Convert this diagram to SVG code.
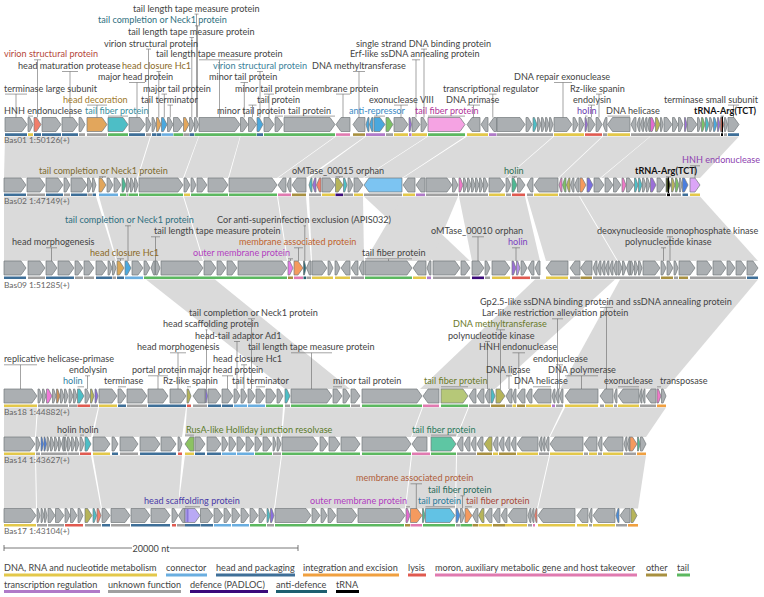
<svg xmlns="http://www.w3.org/2000/svg" width="764" height="597" viewBox="0 0 764 597">
<style>
text{font-family:Lato,"Open Sans",sans-serif;font-size:9.1px;fill:#444}
.gn{font-size:8.4px;fill:#666}
.bold{font-weight:bold;fill:#111}
.g{fill:#abafb2;stroke:#73787b;stroke-width:.7}
.c{stroke:#73787b;stroke-width:.7}
.ld{fill:none;stroke:#666;stroke-width:.6}
.syn polygon{fill:#dadada}
.b{fill:none;stroke-width:2.6}
.bY{stroke:#e3c84a}.bLB{stroke:#6aaee0}.bDB{stroke:#3e6f98}.bO{stroke:#f0a040}.bR{stroke:#e05a50}.bP{stroke:#e07ab0}.bOL{stroke:#a89040}.bG{stroke:#5cb860}.bTR{stroke:#b07ac8}.bGR{stroke:#a0a0a0}.bDP{stroke:#3b0a7a}.bDT{stroke:#1e5f70}.bK{stroke:#000}
.lg{stroke-width:3}
</style>
<rect width="764" height="597" fill="#fff"/>
<g id="synteny" class="syn">
<polygon points="5,136.5 150,136.5 137,178 4,178"/><polygon points="151,136.5 198.5,136.5 183,178 138,178"/><polygon points="199,136.5 240,136.5 228,178 184,178"/><polygon points="240.5,136.5 335,136.5 277,178 229,178"/><polygon points="336,136.5 365,136.5 306,178 278,178"/><polygon points="366,136.5 427,136.5 363,178 309,178"/><polygon points="428,136.5 465,136.5 402,178 364,178"/><polygon points="467,136.5 553,136.5 505,178 403,178"/><polygon points="554,136.5 602,136.5 558,178 506,178"/><polygon points="603,136.5 650,136.5 600,178 559,178"/><polygon points="650.5,136.5 739,136.5 700,178 601,178"/>
<polygon points="4,196.5 96,196.5 116,261 4,261"/><polygon points="99,196.5 183,196.5 203,261 117,261"/><polygon points="184,196.5 277,196.5 287,261 204,261"/><polygon points="278,196.5 306,196.5 311,261 288,261"/><polygon points="309,196.5 363,196.5 364,261 312,261"/><polygon points="364,196.5 402,196.5 470,261 433,261"/><polygon points="403,196.5 458,196.5 431,261 365,261"/><polygon points="459,196.5 525,196.5 540,261 472,261"/><polygon points="527,196.5 579,196.5 617,261 546,261"/><polygon points="580,196.5 700,196.5 758,261 618,261"/>
<polygon points="146,279.5 215,279.5 350,389 285,389"/><polygon points="535,279.5 615,279.5 495,389 420,389"/><polygon points="620,279.5 758,279.5 666,389 560,389"/>
<polygon points="4,407.5 37,407.5 35,437 4,437"/><polygon points="38,407.5 98,407.5 91,437 36,437"/><polygon points="99,407.5 186,407.5 182,437 93,437"/><polygon points="187,407.5 283,407.5 281,437 185,437"/><polygon points="285,407.5 422,407.5 411,437 282,437"/><polygon points="423,407.5 468,407.5 456,437 412,437"/><polygon points="469,407.5 563,407.5 549,437 457,437"/><polygon points="565,407.5 666,407.5 646,437 550,437"/>
<polygon points="4,455.5 35,455.5 36,508.5 4,508.5"/><polygon points="36,455.5 91,455.5 101,508.5 37,508.5"/><polygon points="93,455.5 182,455.5 178,508.5 102,508.5"/><polygon points="185,455.5 281,455.5 274,508.5 178,508.5"/><polygon points="282,455.5 411,455.5 405,508.5 275,508.5"/><polygon points="412,455.5 456,455.5 455,508.5 406,508.5"/><polygon points="457,455.5 549,455.5 537,508.5 456,508.5"/><polygon points="550,455.5 646,455.5 638,508.5 538,508.5"/>
</g>

<g id="Bas01" transform="translate(0,117.5)">
<path class="g" d="M5 0H22L27 7L22 14H5ZM28 0H29.7L33 7L29.7 14H28ZM42 0H56L61 7L56 14H42ZM62 0H73L78 7L73 14H62ZM79 0H81.1L85 7L81.1 14H79ZM129 0H140L145 7L140 14H129ZM146 0H147.7L151 7L147.7 14H146ZM152 0H153.4L156 7L153.4 14H152ZM167.5 0H169.4L173 7L169.4 14H167.5ZM173.5 0H178L183 7L178 14H173.5ZM189.5 0H191.1L194 7L191.1 14H189.5ZM194.5 0H195.9L198.5 7L195.9 14H194.5ZM199 0H235L240 7L235 14H199ZM240.5 0H243.1L248 7L243.1 14H240.5ZM248.5 0H251.5L256.5 7L251.5 14H248.5ZM264 0H269L274 7L269 14H264ZM275 0H278L283 7L278 14H275ZM284 0H330L335 7L330 14H284ZM336 7L341 0H350V14H341ZM353 7L358 0H365V14H358ZM394 0H403L408 7L403 14H394ZM412 0H415L420 7L415 14H412ZM421 0H423.1L427 7L423.1 14H421ZM467 7L472 0H480V14H472ZM481 7L485.5 0H488V14H485.5ZM489 7L493.9 0H496.5V14H493.9ZM497 0H520L525 7L520 14H497ZM526 0H528.1L532 7L528.1 14H526ZM537.5 0H538.7L541 7L538.7 14H537.5ZM541.5 0H542.7L545 7L542.7 14H541.5ZM545.5 0H546.7L549 7L546.7 14H545.5ZM549.5 0H550.7L553 7L550.7 14H549.5ZM554 0H567L572 7L567 14H554ZM573 0H574.7L578 7L574.7 14H573ZM579 0H580.7L584 7L580.7 14H579ZM588 0H590.5L595 7L590.5 14H588ZM596 0H598.1L602 7L598.1 14H596ZM603 7L605.6 0H607V14H605.6ZM607.5 7L612.5 0H630V14H612.5ZM631 7L634.3 0H636V14H634.3ZM637 7L639 0H640V14H639ZM640.5 7L642.5 0H643.5V14H642.5ZM644 7L646 0H647V14H646ZM647.5 7L649.1 0H650V14H649.1ZM660.5 0H661.4L663 7L661.4 14H660.5ZM664 0H667L672 7L667 14H664ZM672.5 0H674.4L678 7L674.4 14H672.5ZM678.5 0H680.1L683 7L680.1 14H678.5ZM687.5 0H692L697 7L692 14H687.5ZM697.5 0H698.7L701 7L698.7 14H697.5ZM709.5 0H710.7L713 7L710.7 14H709.5ZM724.5 0H725.5L727.5 7L725.5 14H724.5ZM728 0H734L739 7L734 14H728Z"/>
<path class="c" fill="#f27e6b" d="M34 0H36.5L41 7L36.5 14H34ZM720.5 0H721.7L724 7L721.7 14H720.5Z"/>
<path class="c" fill="#e2a65c" d="M87 0H102L107 7L102 14H87ZM156.5 0H158.1L161 7L158.1 14H156.5ZM183.5 0H185.4L189 7L185.4 14H183.5Z"/>
<path class="c" fill="#4dbec6" d="M108 0H123L128 7L123 14H108ZM533 0H534.4L537 7L534.4 14H533ZM705.5 0H706.7L709 7L706.7 14H705.5Z"/>
<path class="c" fill="#4aa8de" d="M161.5 0H163.4L167 7L163.4 14H161.5ZM257 0H259.1L263 7L259.1 14H257ZM366 7L368 0H369V14H368ZM369.5 7L371.8 0H373V14H371.8ZM374 0H380L385 7L380 14H374ZM713.5 0H714.7L717 7L714.7 14H713.5Z"/>
<path class="c" fill="#7cc266" d="M386 0H388.5L393 7L388.5 14H386ZM701.5 0H702.7L705 7L702.7 14H701.5Z"/>
<path class="c" fill="#9b6fd8" d="M409 0H410L411.5 7L410 14H409ZM585 0H585.9L587.5 7L585.9 14H585ZM684.5 0H685.4L687 7L685.4 14H684.5ZM717.5 0H718.4L720 7L718.4 14H717.5Z"/>
<path class="c" fill="#f5a3e3" d="M428 0H460L465 7L460 14H428Z"/>
<path class="c" fill="#e36ad0" d="M650.5 0H652.1L655 7L652.1 14H650.5Z"/>
<path class="c" fill="#b6b45a" d="M655.5 0H657.1L660 7L657.1 14H655.5Z"/>
<rect x="721.7" y="-1" width="1.3" height="16" fill="#000"/>
<path class="b bDB" d="M5 17.1H27M34 17.1H41M42 17.1H61M62 17.1H78M129 17.1H145M152 17.1H156M156.5 17.1H161M189.5 17.1H194M257 17.1H263M728 17.1H739"/>
<path class="b bY" d="M28 17.1H33M394 17.1H408M412 17.1H427M467 17.1H488M554 17.1H584M607.5 17.1H630"/>
<path class="b bGR" d="M79 17.1H85M87 17.1H107M146 17.1H151M183.5 17.1H189M386 17.1H393M497 17.1H553M603 17.1H607M631 17.1H720M724 17.1H727"/>
<path class="b bG" d="M108 17.1H128M173.5 17.1H183M194.5 17.1H256.5M264 17.1H335M428 17.1H465"/>
<path class="b bLB" d="M161.5 17.1H173"/>
<path class="b bP" d="M336 17.1H350"/>
<path class="b bOL" d="M353 17.1H365"/>
<path class="b bTR" d="M366 17.1H385M409 17.1H411.5M489 17.1H496.5"/>
<path class="b bR" d="M585 17.1H602"/>
<path class="b bK" d="M721 17.1H723"/>
</g>
<g id="Bas01-labels">
<path class="ld" d="M194.5 14.1H198.5M196.5 14.1V117.5M195 25.8H200M197.5 25.8V117.5M189.5 37.5H194M191.8 37.5V117.5M146 49.1H151M148.5 49.1V117.5M421 49.1H427M424 49.1V117.5M34 59.8H41M37.5 59.8V117.5M199 59.8H240M219.5 59.8V117.5M412 59.8H420M416 59.8V117.5M62 71.5H78M70 71.5V117.5M156.5 71.5H161M158.8 71.5V117.5M257 71.5H263M260 71.5V117.5M353 71.5H365M359 71.5V117.5M129 82.5H145M137 82.5V117.5M240.5 82.5H248M244.3 82.5V117.5M554 82.5H572M563 82.5V117.5M5 94.1H27M16 94.1V117.5M161.5 94.1H167M164.3 94.1V117.5M264 94.1H274M269 94.1V117.5M336 94.1H350M343 94.1V117.5M489 94.1H496.5M492.8 94.1V117.5M596 94.1H602M599 94.1V117.5M87 105.1H107M97 105.1V117.5M167.5 105.1H173M170.3 105.1V117.5M248.5 105.1H256.5M252.5 105.1V117.5M394 105.1H408M401 105.1V117.5M467 105.1H480M473.5 105.1V117.5M588 105.1H595M591.5 105.1V117.5M728 105.1H739M733.5 105.1V117.5M28 116.1H33M108 116.1H128M275 116.1H283M284 116.1H335M374 116.1H385M428 116.1H465M585 116.1H587.5M607.5 116.1H630M720.5 116.1H724"/>
<text x="133" y="11.6">tail length tape measure protein</text>
<text x="98" y="23.3" style="fill:#2f6f80">tail completion or Neck1 protein</text>
<text x="128" y="35">tail length tape measure protein</text>
<text x="104" y="46.6">virion structural protein</text>
<text x="356" y="46.6">single strand DNA binding protein</text>
<text x="4" y="57.3" style="fill:#b5473a">virion structural protein</text>
<text x="156" y="57.3">tail length tape measure protein</text>
<text x="350" y="57.3">Erf-like ssDNA annealing protein</text>
<text x="18" y="69">head maturation protease</text>
<text x="122" y="69" style="fill:#8b6a26">head closure Hc1</text>
<text x="213" y="69" style="fill:#3b7f9a">virion structural protein</text>
<text x="312" y="69">DNA methyltransferase</text>
<text x="98" y="80">major head protein</text>
<text x="209" y="80">minor tail protein</text>
<text x="514" y="80">DNA repair exonuclease</text>
<text x="4" y="91.6">terminase large subunit</text>
<text x="143" y="91.6">major tail protein</text>
<text x="235" y="91.6">minor tail protein</text>
<text x="305" y="91.6">membrane protein</text>
<text x="443" y="91.6">transcriptional regulator</text>
<text x="570" y="91.6">Rz-like spanin</text>
<text x="63" y="102.6" style="fill:#a07a2c">head decoration</text>
<text x="141" y="102.6">tail terminator</text>
<text x="257" y="102.6">tail protein</text>
<text x="369" y="102.6">exonuclease VIII</text>
<text x="446" y="102.6">DNA primase</text>
<text x="573" y="102.6">endolysin</text>
<text x="664" y="102.6">terminase small subunit</text>
<text x="4" y="113.6">HNH endonuclease</text>
<text x="85" y="113.6" style="fill:#3a8fa0">tail fiber protein</text>
<text x="217" y="113.6">minor tail protein</text>
<text x="288" y="113.6">tail protein</text>
<text x="349" y="113.6" style="fill:#3a8ac4">anti-repressor</text>
<text x="415" y="113.6" style="fill:#b0359a">tail fiber protein</text>
<text x="577" y="113.6" style="fill:#6a3ab0">holin</text>
<text x="606" y="113.6">DNA helicase</text>
<text x="694" y="113.6" class="bold">tRNA-Arg(TCT)</text>
<text x="4" y="143.3" class="gn">Bas01  1:50126(+)</text>
</g>

<g id="Bas02" transform="translate(0,178)">
<path class="g" d="M4 0H21L26 7L21 14H4ZM27 0H40L45 7L40 14H27ZM46 0H58L63 7L58 14H46ZM64 0H66.1L70 7L66.1 14H64ZM71 0H82L87 7L82 14H71ZM87.5 0H89.1L92 7L89.1 14H87.5ZM92.5 0H93.7L96 7L93.7 14H92.5ZM107 0H109.1L113 7L109.1 14H107ZM114 0H116.5L121 7L116.5 14H114ZM126.5 0H127.7L130 7L127.7 14H126.5ZM130.5 0H131.7L134 7L131.7 14H130.5ZM134.5 0H135.7L138 7L135.7 14H134.5ZM139 0H178L183 7L178 14H139ZM184 0H186.1L190 7L186.1 14H184ZM191 0H192.7L196 7L192.7 14H191ZM197 0H202L207 7L202 14H197ZM208 0H223L228 7L223 14H208ZM229 0H272L277 7L272 14H229ZM278 7L283 0H286V14H283ZM287 7L289.6 0H291V14H289.6ZM292 7L297 0H306V14H297ZM322 0H330L335 7L330 14H322ZM348 0H349.7L353 7L349.7 14H348ZM354 0H358L363 7L358 14H354ZM403 7L408 0H415V14H408ZM416 7L421 0H425V14H421ZM426 0H447L452 7L447 14H426ZM452.5 0H454.4L458 7L454.4 14H452.5ZM463.5 0H464.7L467 7L464.7 14H463.5ZM467.5 0H468.7L471 7L468.7 14H467.5ZM471.5 0H472.7L475 7L472.7 14H471.5ZM475.5 0H476.7L479 7L476.7 14H475.5ZM479.5 0H480.7L483 7L480.7 14H479.5ZM483.5 0H485.1L488 7L485.1 14H483.5ZM489 0H500L505 7L500 14H489ZM506 0H507.7L511 7L507.7 14H506ZM517.5 0H520.1L525 7L520.1 14H517.5ZM527 7L530.9 0H533V14H530.9ZM534 7L539 0H558V14H539ZM570.5 7L572.8 0H574V14H572.8ZM574.5 7L577.4 0H579V14H577.4ZM594 0H599L604 7L599 14H594ZM605 0H608L613 7L608 14H605ZM613.5 0H616.1L621 7L616.1 14H613.5ZM626.5 0H629.1L634 7L629.1 14H626.5ZM642.5 0H643.7L646 7L643.7 14H642.5ZM646.5 0H647.7L650 7L647.7 14H646.5ZM657 0H660L665 7L660 14H657ZM679.5 0H680.4L682 7L680.4 14H679.5Z"/>
<path class="c" fill="#e2a65c" d="M99 0H101.5L106 7L101.5 14H99Z"/>
<path class="c" fill="#4fb993" d="M122 0H123.4L126 7L123.4 14H122ZM512 0H513.7L517 7L513.7 14H512Z"/>
<path class="c" fill="#4dbec6" d="M309 7L311 0H312V14H311ZM343.5 0H344.7L347 7L344.7 14H343.5ZM634.5 0H635.7L638 7L635.7 14H634.5ZM638.5 0H639.7L642 7L639.7 14H638.5Z"/>
<path class="c" fill="#9b6fd8" d="M312.5 7L314.8 0H316V14H314.8ZM650.5 0H652.4L656 7L652.4 14H650.5Z"/>
<path class="c" fill="#f27e6b" d="M316.5 7L319.4 0H321V14H319.4Z"/>
<path class="c" fill="#b6b45a" d="M335.5 0H338.1L343 7L338.1 14H335.5ZM566.5 7L568.8 0H570V14H568.8ZM671.5 0H672.7L675 7L672.7 14H671.5Z"/>
<path class="c" fill="#7cc4f2" d="M364 7L369 0H402V14H369Z"/>
<path class="c" fill="#f07ac8" d="M459 0H460.4L463 7L460.4 14H459ZM559 7L561 0H562V14H561ZM622 0H623.4L626 7L623.4 14H622Z"/>
<path class="c" fill="#7cc266" d="M562.5 7L564.8 0H566V14H564.8ZM675.5 0H676.7L679 7L676.7 14H675.5Z"/>
<path class="c" fill="#f59a5e" d="M580 0H582.1L586 7L582.1 14H580Z"/>
<path class="c" fill="#7a6fe0" d="M587 0H589.1L593 7L589.1 14H587Z"/>
<path class="c" fill="#4f5a2a" d="M666 0H667.7L671 7L667.7 14H666Z"/>
<path class="c" fill="#4a7ede" d="M682.5 0H684.4L688 7L684.4 14H682.5Z"/>
<path class="c" fill="#dba5f7" d="M690 0H695L700 7L695 14H690Z"/>
<rect x="667.8" y="-1" width="1.3" height="16" fill="#000"/>
<path class="b bDB" d="M4 16.8H26M46 16.8H63M71 16.8H87M92.5 16.8H96M682.5 16.8H688"/>
<path class="b bGR" d="M27 16.8H45M64 16.8H70M87.5 16.8H92M126.5 16.8H128M309 16.8H321M343.5 16.8H353M364 16.8H402M426 16.8H458M459 16.8H488M506 16.8H511M527 16.8H533M559 16.8H666M671 16.8H681"/>
<path class="b bLB" d="M99 16.8H118"/>
<path class="b bG" d="M120 16.8H126M128.5 16.8H138M139 16.8H183M191 16.8H228M229 16.8H277"/>
<path class="b bY" d="M184 16.8H190M322 16.8H335M354 16.8H363M403 16.8H415M489 16.8H505M534 16.8H558M690 16.8H700"/>
<path class="b bP" d="M278 16.8H291"/>
<path class="b bOL" d="M292 16.8H306"/>
<path class="b bDP" d="M335.5 16.8H343"/>
<path class="b bTR" d="M416 16.8H425"/>
<path class="b bR" d="M512 16.8H525"/>
<path class="b bK" d="M667 16.8H670"/>
</g>
<g id="Bas02-labels">
<path class="ld" d="M99 176.8H106M102.5 176.8V178M335.5 176.8H343M339.3 176.8V178M512 176.8H517M514.5 176.8V178M666 176.8H671M668.5 176.8V178M690 165.8H700M695 165.8V178"/>
<text x="39" y="174.3" style="fill:#7d6a2e">tail completion or Neck1 protein</text>
<text x="292" y="174.3">oMTase_00015 orphan</text>
<text x="504" y="174.3" style="fill:#2f6e4f">holin</text>
<text x="635" y="174.3" class="bold">tRNA-Arg(TCT)</text>
<text x="682" y="163.3" style="fill:#8e3fb0">HNH endonuclease</text>
<text x="4" y="204.3" class="gn">Bas02  1:47149(+)</text>
</g>

<g id="Bas09" transform="translate(0,261)">
<path class="g" d="M4 0H21L26 7L21 14H4ZM28 0H40L45 7L40 14H28ZM46 0H52L57 7L52 14H46ZM58 0H69L74 7L69 14H58ZM75 0H78L83 7L78 14H75ZM84 0H89L94 7L89 14H84ZM96 0H102L107 7L102 14H96ZM108 0H109.4L112 7L109.4 14H108ZM112.5 0H113.7L116 7L113.7 14H112.5ZM132 0H138L143 7L138 14H132ZM144 0H146.1L150 7L146.1 14H144ZM151 7L153.6 0H155V14H153.6ZM155.5 0H157.1L160 7L157.1 14H155.5ZM161 0H198L203 7L198 14H161ZM204 0H211L216 7L211 14H204ZM217 0H221L226 7L221 14H217ZM227 0H232L237 7L232 14H227ZM238 0H282L287 7L282 14H238ZM306.5 7L309.4 0H311V14H309.4ZM312 0H322L327 7L322 14H312ZM328 0H329.7L333 7L329.7 14H328ZM335 0H336.7L340 7L336.7 14H335ZM341 7L346 0H350V14H346ZM351 7L355.5 0H358V14H355.5ZM359 7L362.3 0H364V14H362.3ZM365 0H407L412 7L407 14H365ZM413 7L418 0H426V14H418ZM427 7L429.6 0H431V14H429.6ZM433 0H455L460 7L455 14H433ZM461 0H465L470 7L465 14H461ZM472 0H479L484 7L479 14H472ZM485 0H486.7L490 7L486.7 14H485ZM492 0H505L510 7L505 14H492ZM521 0H523.1L527 7L523.1 14H521ZM528 7L531.9 0H534V14H531.9ZM535 7L538.3 0H540V14H538.3ZM546 7L551 0H568V14H551ZM570 7L575 0H580V14H575ZM580.5 7L585.5 0H592V14H585.5ZM593 7L595.6 0H597V14H595.6ZM597.5 7L599.8 0H601V14H599.8ZM601.5 7L603.8 0H605V14H603.8ZM605.5 7L607.8 0H609V14H607.8ZM609.5 7L611.8 0H613V14H611.8ZM613.5 7L615.8 0H617V14H615.8ZM618 0H619.4L622 7L619.4 14H618ZM622.5 0H623.7L626 7L623.7 14H622.5ZM626.5 7L628.8 0H630V14H628.8ZM630.5 0H631.7L634 7L631.7 14H630.5ZM634.5 0H635.7L638 7L635.7 14H634.5ZM638.5 0H639.7L642 7L639.7 14H638.5ZM643 0H655L660 7L655 14H643ZM661 0H662.7L666 7L662.7 14H661ZM667 0H669.1L673 7L669.1 14H667ZM674 0H675.4L678 7L675.4 14H674ZM679 0H690L695 7L690 14H679ZM697 0H707L712 7L707 14H697ZM713 0H721L726 7L721 14H713ZM727 0H730L735 7L730 14H727ZM736 0H741L746 7L741 14H736ZM747 0H753L758 7L753 14H747Z"/>
<path class="c" fill="#d9a85a" d="M117 0H119.5L124 7L119.5 14H117Z"/>
<path class="c" fill="#4aa8de" d="M125 0H127.1L131 7L127.1 14H125Z"/>
<path class="c" fill="#e67ae8" d="M288 0H289.7L293 7L289.7 14H288Z"/>
<path class="c" fill="#f59a5e" d="M294 0H298L303 7L298 14H294Z"/>
<path class="c" fill="#2a6a78" d="M303.5 0H304.4L306 7L304.4 14H303.5Z"/>
<path class="c" fill="#9b6fd8" d="M512 0H513.4L516 7L513.4 14H512Z"/>
<path class="c" fill="#b58ee8" d="M516.5 0H517.7L520 7L517.7 14H516.5Z"/>
<path class="b bDB" d="M4 16.8H26M46 16.8H74M96 16.8H112M117 16.8H124M747 16.8H758"/>
<path class="b bGR" d="M28 16.8H45M75 16.8H83M84 16.8H94M112.5 16.8H116M306.5 16.8H311M351 16.8H364M433 16.8H470M485 16.8H490M531 16.8H540M570 16.8H580M593 16.8H660M674 16.8H678M690 16.8H746"/>
<path class="b bLB" d="M125 16.8H143"/>
<path class="b bG" d="M144 16.8H287M365 16.8H412"/>
<path class="b bOL" d="M288 16.8H293M580.5 16.8H592M661 16.8H673M679 16.8H688"/>
<path class="b bP" d="M294 16.8H303"/>
<path class="b bDT" d="M303.5 16.8H306"/>
<path class="b bY" d="M312 16.8H333M335 16.8H350M413 16.8H426M492 16.8H510M546 16.8H568"/>
<path class="b bTR" d="M427 16.8H431"/>
<path class="b bDP" d="M472 16.8H484"/>
<path class="b bR" d="M512 16.8H530"/>
</g>
<g id="Bas09-labels">
<path class="ld" d="M125 225.8H131M128 225.8V261M303.5 225.8H306M304.8 225.8V261M151 236.8H160M155.5 236.8V261M472 236.8H484M478 236.8V261M667 236.8H673M670 236.8V261M46 247.8H57M51.5 247.8V261M294 247.8H303M298.5 247.8V261M512 247.8H520M516 247.8V261M661 247.8H666M663.5 247.8V261M117 258.8H124M120.5 258.8V261M288 258.8H293M290.5 258.8V261M365 258.8H412M388.5 258.8V261"/>
<text x="65" y="223.3" style="fill:#2f6f80">tail completion or Neck1 protein</text>
<text x="217" y="223.3">Cor anti-superinfection exclusion (APIS032)</text>
<text x="154" y="234.3">tail length tape measure protein</text>
<text x="431" y="234.3">oMTase_00010 orphan</text>
<text x="597" y="234.3">deoxynucleoside monophosphate kinase</text>
<text x="12" y="245.3">head morphogenesis</text>
<text x="239" y="245.3" style="fill:#c0642e">membrane associated protein</text>
<text x="508" y="245.3" style="fill:#7b3fc0">holin</text>
<text x="625" y="245.3">polynucleotide kinase</text>
<text x="90" y="256.3" style="fill:#8b6a26">head closure Hc1</text>
<text x="193" y="256.3" style="fill:#b23fc0">outer membrane protein</text>
<text x="362" y="256.3">tail fiber protein</text>
<text x="4" y="287.5" class="gn">Bas09  1:51285(+)</text>
</g>

<g id="Bas18" transform="translate(0,389)">
<path class="g" d="M4 0H32L37 7L32 14H4ZM38 0H39.4L42 7L39.4 14H38ZM42.5 0H43.7L46 7L43.7 14H42.5ZM52.5 0H53.7L56 7L53.7 14H52.5ZM60.5 0H61.7L64 7L61.7 14H60.5ZM64.5 0H65.7L68 7L65.7 14H64.5ZM69 0H70.4L73 7L70.4 14H69ZM73.5 0H74.7L77 7L74.7 14H73.5ZM85 0H86.7L90 7L86.7 14H85ZM99 0H112L117 7L112 14H99ZM118 0H121L126 7L121 14H118ZM127 0H142L147 7L142 14H127ZM148 0H163L168 7L163 14H148ZM170 0H181L186 7L181 14H170ZM193 7L198 0H205V14H198ZM208 0H216L221 7L216 14H208ZM222 0H228L233 7L228 14H222ZM234 0H236.1L240 7L236.1 14H234ZM241 0H243.1L247 7L243.1 14H241ZM248 0H250.5L255 7L250.5 14H248ZM256 0H260L265 7L260 14H256ZM266 0H271L276 7L271 14H266ZM277 0H279.1L283 7L279.1 14H277ZM291 0H327L332 7L327 14H291ZM333 0H337L342 7L337 14H333ZM343 0H345.5L350 7L345.5 14H343ZM351 0H355L360 7L355 14H351ZM362 0H417L422 7L417 14H362ZM423 7L428 0H439V14H428ZM469 7L473.5 0H476V14H473.5ZM477 7L481.5 0H484V14H481.5ZM485 7L488.3 0H490V14H488.3ZM506 7L509.9 0H512V14H509.9ZM512.5 7L514.8 0H516V14H514.8ZM517 7L522 0H525V14H522ZM526 7L529.9 0H532V14H529.9ZM533 7L538 0H551V14H538ZM552 7L554 0H555V14H554ZM555.5 7L557.8 0H559V14H557.8ZM559.5 7L561.8 0H563V14H561.8ZM565 7L570 0H598V14H570ZM600 7L605 0H613V14H605ZM614 7L616 0H617V14H616ZM618 7L623 0H639V14H623ZM639.5 7L641.1 0H642V14H641.1ZM642.5 7L644.1 0H645V14H644.1ZM646 7L651 0H656V14H651ZM661.5 0H663.1L666 7L663.1 14H661.5Z"/>
<path class="c" fill="#f07ad8" d="M46.5 0H48.4L52 7L48.4 14H46.5Z"/>
<path class="c" fill="#c8905a" d="M56.5 0H57.7L60 7L57.7 14H56.5Z"/>
<path class="c" fill="#4dbec6" d="M77.5 0H79.8L84 7L79.8 14H77.5ZM285 0H286.7L290 7L286.7 14H285ZM491 0H492.4L495 7L492.4 14H491Z"/>
<path class="c" fill="#b6b45a" d="M90.5 0H91.7L94 7L91.7 14H90.5ZM187 0H188.4L191 7L188.4 14H187ZM496 0H500L505 7L500 14H496Z"/>
<path class="c" fill="#8a6fe0" d="M95 0H96L98 7L96 14H95ZM205.5 0H206.2L207.5 7L206.2 14H205.5Z"/>
<path class="c" fill="#b6c878" d="M441 0H463L468 7L463 14H441Z"/>
<path class="c" fill="#f07ac8" d="M657 0H658.4L661 7L658.4 14H657Z"/>
<path class="b bY" d="M4 16.8H37M99 16.8H117M512.5 16.8H516M526 16.8H551M565 16.8H598M605 16.8H613M618 16.8H639"/>
<path class="b bGR" d="M38 16.8H68M69 16.8H77M90.5 16.8H98M127 16.8H147M193 16.8H207M285 16.8H290M351 16.8H360M469 16.8H490M506 16.8H512M556 16.8H563M600 16.8H604M614 16.8H617M640 16.8H656"/>
<path class="b bR" d="M77.5 16.8H90M187 16.8H191"/>
<path class="b bDB" d="M118 16.8H126M148 16.8H186M208 16.8H221M222 16.8H233"/>
<path class="b bLB" d="M234 16.8H247M248 16.8H265"/>
<path class="b bG" d="M266 16.8H283M291 16.8H350M362 16.8H422M441 16.8H468"/>
<path class="b bP" d="M423 16.8H439"/>
<path class="b bOL" d="M491 16.8H505M517 16.8H525"/>
<path class="b bTR" d="M552 16.8H555"/>
<path class="b bO" d="M657 16.8H666"/>
</g>
<g id="Bas18-labels">
<path class="ld" d="M600 307.5H613M606.5 307.5V389M248 318.8H255M251.5 318.8V389M552 318.8H563M557.5 318.8V389M205.5 329.8H207.5M206.5 329.8V389M496 329.8H505M500.5 329.8V389M234 341.5H240M237 341.5V389M485 341.5H490M487.5 341.5V389M170 352.8H186M178 352.8V389M291 352.8H332M311.5 352.8V389M512.5 352.8H525M518.8 352.8V389M4 364.8H37M20.5 364.8V389M241 364.8H247M244 364.8V389M556 364.8H563M559.5 364.8V389M85 375.8H90M87.5 375.8V389M148 375.8H168M158 375.8V389M222 375.8H233M227.5 375.8V389M506 375.8H512M509 375.8V389M565 375.8H598M581.5 375.8V389M77.5 386.8H84M118 386.8H126M187 386.8H191M256 386.8H265M333 386.8H342M441 386.8H468M533 386.8H551M618 386.8H639M657 386.8H661"/>
<text x="480" y="305">Gp2.5-like ssDNA binding protein and ssDNA annealing protein</text>
<text x="189" y="316.3">tail completion or Neck1 protein</text>
<text x="482" y="316.3">Lar-like restriction alleviation protein</text>
<text x="163" y="327.3">head scaffolding protein</text>
<text x="453" y="327.3" style="fill:#6b7a2a">DNA methyltransferase</text>
<text x="195" y="339">head-tail adaptor Ad1</text>
<text x="448" y="339">polynucleotide kinase</text>
<text x="137" y="350.3">head morphogenesis</text>
<text x="248" y="350.3">tail length tape measure protein</text>
<text x="479" y="350.3">HNH endonuclease</text>
<text x="4" y="362.3">replicative helicase-primase</text>
<text x="213" y="362.3">head closure Hc1</text>
<text x="533" y="362.3">endonuclease</text>
<text x="69" y="373.3">endolysin</text>
<text x="132" y="373.3">portal protein</text>
<text x="188" y="373.3">major head protein</text>
<text x="486" y="373.3">DNA ligase</text>
<text x="548" y="373.3">DNA polymerase</text>
<text x="63" y="384.3" style="fill:#2f7f9f">holin</text>
<text x="104" y="384.3">terminase</text>
<text x="163" y="384.3">Rz-like spanin</text>
<text x="232" y="384.3">tail terminator</text>
<text x="333" y="384.3">minor tail protein</text>
<text x="424" y="384.3" style="fill:#6b7a2a">tail fiber protein</text>
<text x="514" y="384.3">DNA helicase</text>
<text x="604" y="384.3">exonuclease</text>
<text x="660" y="384.3">transposase</text>
<text x="4" y="415" class="gn">Bas18  1:44882(+)</text>
</g>

<g id="Bas14" transform="translate(0,437)">
<path class="g" d="M4 0H30L35 7L30 14H4ZM36 0H37.4L40 7L37.4 14H36ZM47 0H48L50 7L48 14H47ZM50.5 0H51.7L54 7L51.7 14H50.5ZM54.5 0H55.7L58 7L55.7 14H54.5ZM58.5 0H59.4L61 7L59.4 14H58.5ZM61.5 7L63.1 0H64V14H63.1ZM64.5 0H65.4L67 7L65.4 14H64.5ZM67.5 0H68.7L71 7L68.7 14H67.5ZM71.5 0H72.7L75 7L72.7 14H71.5ZM75.5 0H76.7L79 7L76.7 14H75.5ZM80 0H81.4L84 7L81.4 14H80ZM93 0H105L110 7L105 14H93ZM112 0H114.1L118 7L114.1 14H112ZM120 0H133L138 7L133 14H120ZM140 0H155L160 7L155 14H140ZM161 0H171L176 7L171 14H161ZM178 0H179.4L182 7L179.4 14H178ZM195 0H200L205 7L200 14H195ZM207 0H216L221 7L216 14H207ZM222 0H224.1L228 7L224.1 14H222ZM229 0H231.5L236 7L231.5 14H229ZM237 0H240L245 7L240 14H237ZM246 0H249L254 7L249 14H246ZM255 0H257.5L262 7L257.5 14H255ZM263 0H267L272 7L267 14H263ZM273 0H274L276 7L274 14H273ZM277 0H278.4L281 7L278.4 14H277ZM282 0H313L318 7L313 14H282ZM320 0H323L328 7L323 14H320ZM329 0H335L340 7L335 14H329ZM341 0H355L360 7L355 14H341ZM362 0H406L411 7L406 14H362ZM412 7L417 0H427V14H417ZM457 7L460.9 0H463V14H460.9ZM464 7L467.9 0H470V14H467.9ZM471 7L474.3 0H476V14H474.3ZM477 7L480.9 0H483V14H480.9ZM493 7L496.3 0H498V14H496.3ZM499 7L502.3 0H504V14H502.3ZM505 7L508.3 0H510V14H508.3ZM511 7L514.3 0H516V14H514.3ZM517 7L522 0H538V14H522ZM539 7L541 0H542V14H541ZM542.5 7L544.1 0H545V14H544.1ZM545.5 7L547.8 0H549V14H547.8ZM550 7L555 0H583V14H555ZM584 7L589 0H597V14H589ZM598 7L600.6 0H602V14H600.6ZM603 7L608 0H623V14H608ZM624 7L626 0H627V14H626ZM627.5 7L629.1 0H630V14H629.1ZM640.5 0H642.4L646 7L642.4 14H640.5Z"/>
<path class="c" fill="#4a7ede" d="M41 0H41.9L43.5 7L41.9 14H41ZM44 0H44.9L46.5 7L44.9 14H44Z"/>
<path class="c" fill="#4dbec6" d="M85 0H87.1L91 7L87.1 14H85Z"/>
<path class="c" fill="#8cc262" d="M185 7L190 0H194V14H190Z"/>
<path class="c" fill="#5ec6a3" d="M431 0H451L456 7L451 14H431Z"/>
<path class="c" fill="#b6b45a" d="M484 7L489 0H492V14H489Z"/>
<path class="c" fill="#f59a5e" d="M630 0H632.5L637 7L632.5 14H630Z"/>
<path class="c" fill="#4fb993" d="M637.5 0H638.4L640 7L638.4 14H637.5Z"/>
<path class="b bY" d="M4 16.8H35M93 16.8H110M185 16.8H194M493 16.8H498M517 16.8H538M550 16.8H583M589 16.8H597M603 16.8H623"/>
<path class="b bGR" d="M36 16.8H40M41 16.8H67M67.5 16.8H79M120 16.8H138M273 16.8H281M457 16.8H476M539 16.8H549M584 16.8H588M598 16.8H602M624 16.8H636"/>
<path class="b bR" d="M80 16.8H91M178 16.8H182"/>
<path class="b bDB" d="M112 16.8H118M140 16.8H176M195 16.8H205M207 16.8H221"/>
<path class="b bLB" d="M222 16.8H236M237 16.8H254"/>
<path class="b bG" d="M255 16.8H272M282 16.8H360M362 16.8H411M431 16.8H456"/>
<path class="b bP" d="M412 16.8H430"/>
<path class="b bOL" d="M477 16.8H492M499 16.8H516"/>
<path class="b bO" d="M637 16.8H646"/>
</g>
<g id="Bas14-labels">
<path class="ld" d="M64.5 435.1H67M80 435.1H84M185 435.1H194M431 435.1H456"/>
<text x="57" y="432.6">holin</text>
<text x="79" y="432.6">holin</text>
<text x="186" y="432.6" style="fill:#5a7a2a">RusA-like Holliday junction resolvase</text>
<text x="412" y="432.6" style="fill:#2d7a5e">tail fiber protein</text>
<text x="4" y="462.5" class="gn">Bas14  1:43627(+)</text>
</g>

<g id="Bas17" transform="translate(0,508.5)">
<path class="g" d="M4 0H31L36 7L31 14H4ZM37 0H38L40 7L38 14H37ZM41 0H42L44 7L42 14H41ZM44.5 0H45.4L47 7L45.4 14H44.5ZM48 0H50.5L55 7L50.5 14H48ZM55.5 0H59L64 7L59 14H55.5ZM65 0H66.7L70 7L66.7 14H65ZM70.5 0H72.8L77 7L72.8 14H70.5ZM78 0H79.7L83 7L79.7 14H78ZM102 0H105L110 7L105 14H102ZM111 0H125L130 7L125 14H111ZM131 0H145L150 7L145 14H131ZM151 0H165L170 7L165 14H151ZM172 0H174.1L178 7L174.1 14H172ZM178.5 7L182.7 0H185V14H182.7ZM200.5 0H208L213 7L208 14H200.5ZM214 0H218L223 7L218 14H214ZM224 0H226.5L231 7L226.5 14H224ZM232 0H235L240 7L235 14H232ZM241 0H244L249 7L244 14H241ZM250 0H253L258 7L253 14H250ZM259 0H261.5L266 7L261.5 14H259ZM275 0H306L311 7L306 14H275ZM312 0H315L320 7L315 14H312ZM321 0H323.1L327 7L323.1 14H321ZM328 0H331L336 7L331 14H328ZM337 0H352L357 7L352 14H337ZM358 0H400L405 7L400 14H358ZM460.5 0H461.9L464.5 7L461.9 14H460.5ZM472.5 7L476.1 0H478V14H476.1ZM485 7L489.5 0H492V14H489.5ZM493 7L497.5 0H500V14H497.5ZM501 7L504.9 0H507V14H504.9ZM508 7L513 0H527V14H513ZM528 7L530 0H531V14H530ZM531.5 7L533.1 0H534V14H533.1ZM538 7L543 0H575V14H543ZM577 7L582 0H588V14H582ZM589 7L591 0H592V14H591ZM593 7L598 0H615V14H598ZM620 7L625 0H630V14H625Z"/>
<path class="c" fill="#b6b45a" d="M85 0H87.5L92 7L87.5 14H85ZM478.5 7L482.1 0H484V14H482.1ZM631 0H633.1L637 7L633.1 14H631Z"/>
<path class="c" fill="#4dbec6" d="M93 0H94.2L96.5 7L94.2 14H93ZM267 0H268L270 7L268 14H267Z"/>
<path class="c" fill="#f27e6b" d="M97 0H98.4L101 7L98.4 14H97ZM534.5 7L536.1 0H537V14H536.1Z"/>
<path class="c" fill="#b9a9f4" d="M185 0H195L200 7L195 14H185Z"/>
<rect x="186.5" y="0.4" width="2" height="13.2" fill="#8a78d8"/>
<path class="c" fill="#8a6fe0" d="M270.5 0H271.7L274 7L271.7 14H270.5Z"/>
<path class="c" fill="#e36ad0" d="M406 0H407.4L410 7L407.4 14H406Z"/>
<path class="c" fill="#f59a5e" d="M410.5 0H417L422 7L417 14H410.5ZM465 0H467.5L472 7L467.5 14H465Z"/>
<path class="c" fill="#4fb993" d="M422.5 0H423.4L425 7L423.4 14H422.5Z"/>
<path class="c" fill="#62c2e4" d="M425.5 0H450L455 7L450 14H425.5Z"/>
<path class="c" fill="#4a8ede" d="M456 0H457.4L460 7L457.4 14H456ZM616 7L618 0H619V14H618Z"/>
<path class="b bY" d="M4 16.8H36M478.5 16.8H492M505 16.8H527M538 16.8H575M577 16.8H588M593 16.8H615"/>
<path class="b bGR" d="M37 16.8H47M48 16.8H64M85 16.8H101M111 16.8H130M177 16.8H185M267 16.8H274M456 16.8H460M528 16.8H532M589 16.8H592M616 16.8H627"/>
<path class="b bR" d="M65 16.8H83M172 16.8H176"/>
<path class="b bDB" d="M102 16.8H110M131 16.8H170M185 16.8H200M200.5 16.8H213"/>
<path class="b bLB" d="M214 16.8H231M232 16.8H249"/>
<path class="b bG" d="M250 16.8H266M275 16.8H404M423 16.8H455M460.5 16.8H472"/>
<path class="b bOL" d="M405 16.8H410M472.5 16.8H478M493 16.8H505"/>
<path class="b bP" d="M410.5 16.8H422M533 16.8H535"/>
<path class="b bO" d="M628 16.8H638"/>
</g>
<g id="Bas17-labels">
<path class="ld" d="M410.5 483.8H422M416.3 483.8V508.5M460.5 495.8H464.5M462.5 495.8V508.5M185 506.8H200M406 506.8H410M425.5 506.8H455M465 506.8H472"/>
<text x="356" y="481.3" style="fill:#b0603a">membrane associated protein</text>
<text x="428" y="493.3" style="fill:#2b6a5a">tail fiber protein</text>
<text x="144" y="504.3" style="fill:#4a3aa8">head scaffolding protein</text>
<text x="310" y="504.3" style="fill:#b03ac0">outer membrane protein</text>
<text x="418" y="504.3" style="fill:#2b7a9a">tail protein</text>
<text x="466" y="504.3" style="fill:#a84a3a">tail fiber protein</text>
<text x="4" y="533.5" class="gn">Bas17  1:43104(+)</text>
</g>

<g id="scale">
<path d="M4 548H298M4 545V551M298 545V551" stroke="#555" stroke-width=".8" fill="none"/>
<rect x="132" y="542" width="38" height="11" fill="#fff"/>
<text x="151" y="551.5" text-anchor="middle">20000 nt</text>
</g>

<g id="legend">
<text x="4" y="571">DNA, RNA and nucleotide metabolism</text>
<text x="166" y="571">connector</text>
<text x="216" y="571">head and packaging</text>
<text x="303" y="571">integration and excision</text>
<text x="408" y="571">lysis</text>
<text x="435" y="571">moron, auxiliary metabolic gene and host takeover</text>
<text x="646" y="571">other</text>
<text x="677" y="571">tail</text>
<text x="4" y="587.5">transcription regulation</text>
<text x="108" y="587.5">unknown function</text>
<text x="190" y="587.5">defence (PADLOC)</text>
<text x="276" y="587.5">anti-defence</text>
<text x="336" y="587.5">tRNA</text>
<path class="b lg bY" d="M4 575H157"/>
<path class="b lg bLB" d="M166 575H207"/>
<path class="b lg bDB" d="M216 575H295"/>
<path class="b lg bO" d="M303 575H399"/>
<path class="b lg bR" d="M408 575H426"/>
<path class="b lg bP" d="M435 575H637"/>
<path class="b lg bOL" d="M646 575H667"/>
<path class="b lg bG" d="M677 575H690"/>
<path class="b lg bTR" d="M4 591.5H100"/>
<path class="b lg bGR" d="M108 591.5H181"/>
<path class="b lg bDP" d="M190 591.5H268"/>
<path class="b lg bDT" d="M276 591.5H327"/>
<path class="b lg bK" d="M336 591.5H359"/>
</g>
</svg>
